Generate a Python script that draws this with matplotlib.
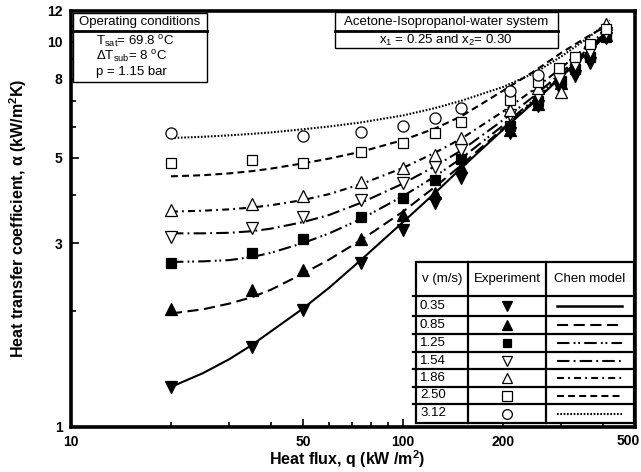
import matplotlib
matplotlib.use('Agg')
import matplotlib.pyplot as plt
from matplotlib.ticker import FixedLocator, FixedFormatter, NullFormatter
from matplotlib.patches import Rectangle

plt.rcParams['font.family'] = ['Liberation Sans', 'DejaVu Sans']
plt.rcParams['mathtext.fontset'] = 'custom'
plt.rcParams['mathtext.rm'] = 'Liberation Sans'
plt.rcParams['mathtext.it'] = 'Liberation Sans:italic'
plt.rcParams['mathtext.bf'] = 'Liberation Sans:bold'
plt.rcParams['lines.scale_dashes'] = False

# 流速 v (m/s)
v_labels = ['0.35', '0.85', '1.25', '1.54', '1.86', '2.50', '3.12']

# 实验数据: 热流密度 q (kW/m2) 与换热系数 alpha (kW/m2K)
q_035 = [20, 35, 50, 75, 100, 125, 150, 210, 255, 295, 330, 365, 410]
a_035 = [1.27, 1.61, 2.01, 2.67, 3.24, 3.81, 4.42, 5.8, 6.8, 7.6, 8.16, 8.82, 10.2]
q_085 = [20, 35, 50, 75, 100, 125, 150, 210, 255, 300, 410]
a_085 = [2.02, 2.26, 2.56, 3.07, 3.54, 4.05, 4.72, 5.9, 6.9, 7.8, 10.4]
q_125 = [20, 35, 50, 75, 100, 125, 150, 210, 255, 300, 330, 365, 410]
a_125 = [2.66, 2.82, 3.07, 3.50, 3.92, 4.36, 4.97, 6.05, 7.0, 7.9, 8.5, 9.1, 10.3]
q_154 = [20, 35, 50, 75, 100, 125, 150, 210, 255, 295, 330, 365, 410]
a_154 = [3.11, 3.28, 3.50, 3.87, 4.29, 4.72, 5.22, 6.43, 7.24, 8.0, 8.67, 9.37, 10.5]
q_186 = [20, 35, 50, 75, 100, 125, 150, 210, 255, 300, 410]
a_186 = [3.65, 3.80, 3.97, 4.31, 4.69, 5.07, 5.61, 6.63, 7.56, 7.4, 11.1]
q_250 = [20, 35, 50, 75, 100, 125, 150, 210, 255, 295, 330, 365, 410]
a_250 = [4.83, 4.92, 4.85, 5.16, 5.44, 5.78, 6.17, 7.04, 7.85, 8.56, 9.1, 9.88, 10.8]
q_312 = [20, 50, 75, 100, 125, 150, 210, 255]
a_312 = [5.8, 5.7, 5.82, 6.05, 6.35, 6.72, 7.45, 8.2]

# Chen 模型计算值
q_model = [20, 25, 30, 35, 40, 50, 60, 75, 100, 125, 150, 200, 250, 300, 360, 420]
chen_035 = [1.27, 1.38, 1.50, 1.63, 1.77, 2.03, 2.30, 2.72, 3.40, 4.05, 4.70,
            5.90, 7.00, 8.10, 9.35, 10.6]
chen_085 = [1.97, 2.02, 2.09, 2.17, 2.27, 2.50, 2.72, 3.06, 3.62, 4.20, 4.78,
            5.95, 7.05, 8.15, 9.40, 10.65]
chen_125 = [2.68, 2.69, 2.71, 2.76, 2.83, 3.00, 3.18, 3.47, 3.97, 4.47, 4.98,
            6.05, 7.10, 8.20, 9.45, 10.7]
chen_154 = [3.18, 3.18, 3.19, 3.22, 3.27, 3.40, 3.55, 3.82, 4.28, 4.75, 5.22,
            6.25, 7.25, 8.30, 9.55, 10.8]
chen_186 = [3.62, 3.64, 3.67, 3.71, 3.76, 3.88, 4.02, 4.27, 4.70, 5.15, 5.60,
            6.58, 7.55, 8.55, 9.75, 10.9]
chen_250 = [4.47, 4.50, 4.55, 4.61, 4.68, 4.83, 4.97, 5.18, 5.55, 5.95, 6.40,
            7.45, 8.40, 9.35, 10.3, 11.1]
chen_312 = [5.62, 5.66, 5.71, 5.76, 5.81, 5.92, 6.02, 6.17, 6.43, 6.72, 7.02,
            7.62, 8.30, 9.15, 10.2, 11.35]

exp_q = [q_035, q_085, q_125, q_154, q_186, q_250, q_312]
exp_a = [a_035, a_085, a_125, a_154, a_186, a_250, a_312]
chen = [chen_035, chen_085, chen_125, chen_154, chen_186, chen_250, chen_312]

markers = ['v', '^', 's', 'v', '^', 's', 'o']
msizes = [8, 8, 7, 8, 8, 7.5, 8]
filled = [True, True, True, False, False, False, False]
dashes = [None, (8, 4), (9, 3, 1.3, 2, 1.3, 3), (9, 3, 1.3, 3),
          (5, 3, 1.3, 3), (5, 3), (1.2, 1.2)]

fig = plt.figure(figsize=(6.41, 4.72), dpi=100)
ax = fig.add_axes([71 / 641, 1 - 427 / 472, 564 / 641, 416 / 472])
ax.set_xscale('log')
ax.set_yscale('log')

for i in range(7):
    if dashes[i] is None:
        ax.plot(q_model, chen[i], color='k', lw=1.5, ls='-', zorder=2)
    else:
        ax.plot(q_model, chen[i], color='k', lw=1.5, dashes=dashes[i], zorder=2)
    fc = 'k' if filled[i] else 'white'
    ax.plot(exp_q[i], exp_a[i], ls='none', marker=markers[i], ms=msizes[i],
            mfc=fc, mec='k', mew=0.9, zorder=3)

ax.set_xlim(10, 500)
ax.set_ylim(1, 12)
ax.xaxis.set_major_locator(FixedLocator([10, 50, 100, 200, 500]))
ax.xaxis.set_major_formatter(FixedFormatter(['10', '50', '100', '200', '']))
ax.xaxis.set_minor_locator(FixedLocator([20, 30, 40, 60, 70, 80, 90, 300, 400]))
ax.xaxis.set_minor_formatter(NullFormatter())
ax.yaxis.set_major_locator(FixedLocator([1, 3, 5, 8, 10, 12]))
ax.yaxis.set_major_formatter(FixedFormatter(['1', '3', '5', '8', '10', '12']))
ax.yaxis.set_minor_locator(FixedLocator([2, 4, 6, 7, 9, 11]))
ax.yaxis.set_minor_formatter(NullFormatter())

for s in ax.spines.values():
    s.set_linewidth(2.6)
ax.tick_params(which='both', direction='in', top=False, right=False,
               width=1.2, labelsize=10)
ax.tick_params(which='major', length=6, pad=6)
ax.tick_params(which='minor', length=3.5)
for lab in ax.get_xticklabels() + ax.get_yticklabels():
    lab.set_fontweight('bold')
# 最右端刻度标签靠图边放置
fig.text(640 / 641, 1 - 441 / 472, '500', ha='right', va='center',
         fontsize=10, fontweight='bold')

fig.text(347 / 641, 1 - 459 / 472, r'Heat flux, q (kW /m$\mathbf{^2}$)',
         ha='center', va='center', fontsize=11.5, fontweight='bold')
fig.text(18 / 641, 1 - 218 / 472,
         r'Heat transfer coefficient, α (kW/m$\mathbf{^2}$K)',
         ha='center', va='center', rotation=90, fontsize=11.5, fontweight='bold')

# 注释框与图例表格 (像素坐标)
ov = fig.add_axes([0, 0, 1, 1], zorder=5)
ov.set_xlim(0, 641)
ov.set_ylim(472, 0)
ov.axis('off')
ov.patch.set_alpha(0)

# 操作条件
ov.add_patch(Rectangle((73, 13), 134, 69, fc='white', ec='k', lw=1.0))
ov.plot([73, 207], [31, 31], color='k', lw=2)
ov.text(140, 22, 'Operating conditions', ha='center', va='center', fontsize=9.5)
ov.text(96, 42, r'T$_{\rm sat}$= 69.8 $^{\rm o}$C', ha='left', va='center', fontsize=9.5)
ov.text(96, 57, r'ΔT$_{\rm sub}$= 8 $^{\rm o}$C', ha='left', va='center', fontsize=9.5)
ov.text(96, 72, 'p = 1.15 bar', ha='left', va='center', fontsize=9.5)

# 体系说明
ov.add_patch(Rectangle((335, 12), 223, 36, fc='white', ec='k', lw=1.0))
ov.plot([335, 558], [31, 31], color='k', lw=2)
ov.text(446, 22, 'Acetone-Isopropanol-water system', ha='center', va='center',
        fontsize=9.5)
ov.text(446, 40, r'x$_1$ = 0.25 and x$_2$= 0.30', ha='center', va='center',
        fontsize=9.5)

# 图例表格
tx0, tx1, ty0, ty1 = 416, 634, 262, 423
ov.add_patch(Rectangle((tx0, ty0), tx1 - tx0, ty1 - ty0, fc='white', ec='k',
                       lw=1.6))
ov.plot([468, 468], [ty0, ty1], color='k', lw=1.6)
ov.plot([546, 546], [ty0, ty1], color='k', lw=1.6)
ov.text(442, 279, 'v (m/s)', ha='center', va='center', fontsize=9.5)
ov.text(507, 279, 'Experiment', ha='center', va='center', fontsize=9.5)
ov.text(590, 279, 'Chen model', ha='center', va='center', fontsize=9.5)
row_edges = [296, 316, 334, 352, 369, 387, 404, ty1]
for y in row_edges[:-1]:
    ov.plot([413, tx1], [y, y], color='k', lw=1.6)
for i in range(7):
    yc = (row_edges[i] + row_edges[i + 1]) / 2
    ov.text(420, yc, v_labels[i], ha='left', va='center', fontsize=9.5)
    fc = 'k' if filled[i] else 'white'
    ov.plot([507], [yc], ls='none', marker=markers[i], ms=msizes[i] - 1,
            mfc=fc, mec='k', mew=0.9)
    if dashes[i] is None:
        ov.plot([557, 622], [yc, yc], color='k', lw=1.8, ls='-')
    else:
        ov.plot([557, 622], [yc, yc], color='k', lw=1.5, dashes=dashes[i])

plt.savefig('out.png', dpi=100)
